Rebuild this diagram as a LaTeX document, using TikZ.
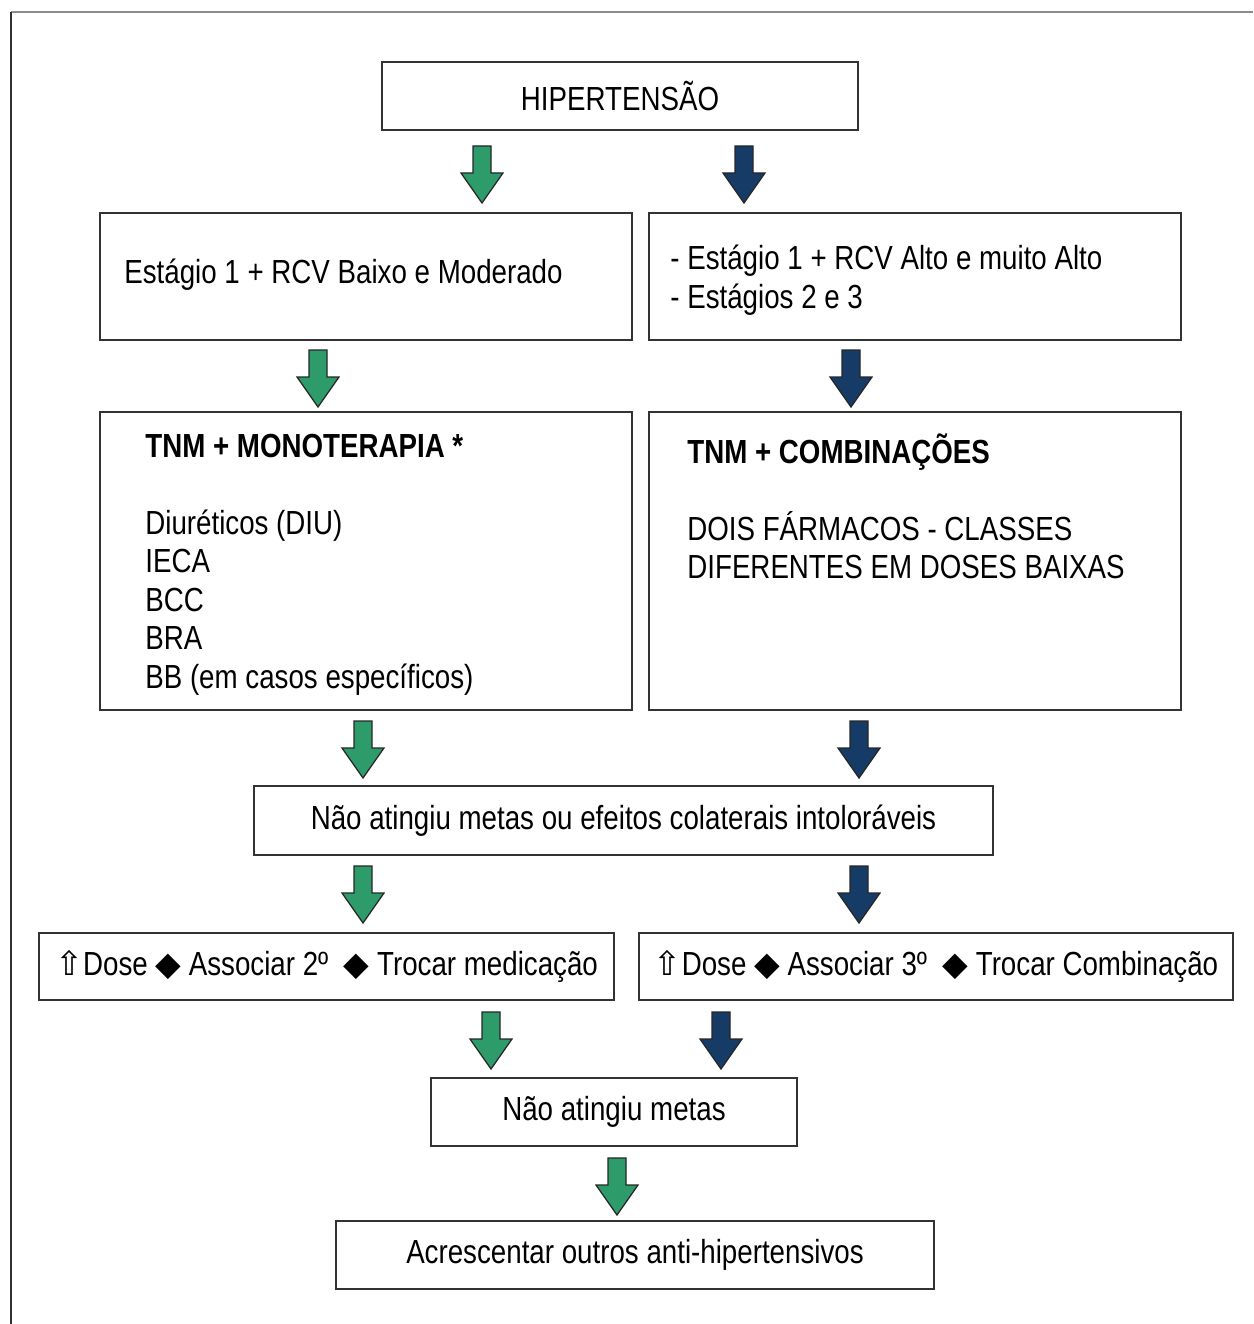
\documentclass[tikz,border=0pt]{standalone}
\usepackage{fontspec}
\setmainfont[FakeStretch=0.83]{Liberation Sans}
\newfontfamily\symfont{DejaVu Sans}
\usetikzlibrary{calc}
\definecolor{agreen}{HTML}{2E9C6A}
\definecolor{anavy}{HTML}{163B66}
\newcommand{\doseup}{{\symfont ⇧}}
\newcommand{\losango}{{\symfont ◆}}
\tikzset{box/.style={draw=black!80, line width=0.4mm, inner sep=0pt, font=\fontsize{19}{21.9}\selectfont},
  txt/.style={inner sep=0pt, align=left, font=\fontsize{19}{21.9}\selectfont},
  pics/downarrow/.style={code={
    \filldraw[fill=#1, draw=black!85, line width=0.25mm] (-9,0) -- (9,0) -- (9,27) -- (21,27) -- (0,57) -- (-21,27) -- (-9,27) -- cycle;
  }}}

\begin{document}
\begin{tikzpicture} [x=0.2mm, y=-0.2mm]
\useasboundingbox (0,0) rectangle (1253,1324);
\draw[black!45, line width=0.4mm] (11,12)--(1253,12);
\draw[black!80, line width=0.4mm] (11,12)--(11,1324);
% caixas
\node[box, minimum width=95.2mm, minimum height=13.6mm] (hip) at (620,96) {HIPERTENSÃO};
\node[box, minimum width=106.4mm, minimum height=25.4mm] (sa) at (366,276.5) {};
\node[box, minimum width=106.4mm, minimum height=25.4mm] (sb) at (915,276.5) {};
\node[box, minimum width=106.4mm, minimum height=59.6mm] (ta) at (366,561) {};
\node[box, minimum width=106.4mm, minimum height=59.6mm] (tb) at (915,561) {};
\node[box, minimum width=147.8mm, minimum height=13.8mm] (nm) at (623.5,820.5) {Não atingiu metas ou efeitos colaterais intoloráveis\hspace{2.8mm}};
\node[box, minimum width=115mm, minimum height=13.4mm] (ca) at (326.5,966.5) {\doseup Dose \losango\ Associar 2º \ \losango\ Trocar medicação};
\node[box, minimum width=118.8mm, minimum height=13.4mm] (cb) at (936,966.5) {\doseup Dose \losango\ Associar 3º \ \losango\ Trocar Combinação};
\node[box, minimum width=73.2mm, minimum height=13.6mm] (nm2) at (614,1112) {Não atingiu metas};
\node[box, minimum width=119.6mm, minimum height=13.6mm] (add) at (635,1255) {Acrescentar outros anti-hipertensivos};
% textos
\node[txt, anchor=west] (sat) at (124,275) {Estágio 1 + RCV Baixo e Moderado};
\node[txt, anchor=west] (sbt) at (670,280) {- Estágio 1 + RCV Alto e muito Alto\\- Estágios 2 e 3};
\node[txt, anchor=west] (tat) at (145,564.5) {\textbf{TNM + MONOTERAPIA *}\\[7.7mm]Diuréticos (DIU)\\IECA\\BCC\\BRA\\BB (em casos específicos)};
\node[txt, anchor=west] (tbt) at (687,506.5) {\textbf{TNM + COMBINAÇÕES}\\[7.7mm]DOIS FÁRMACOS - CLASSES\\DIFERENTES EM DOSES BAIXAS};
% setas
\foreach \x/\y/\c in {482/146/agreen, 744/146/anavy, 318/350/agreen, 851/350/anavy,
  363/721/agreen, 859/721/anavy, 363/866/agreen, 859/866/anavy,
  491/1012/agreen, 721/1012/anavy, 617/1158/agreen} {
  \pic at (\x,\y) {downarrow=\c};
}
\end{tikzpicture}
\end{document}
